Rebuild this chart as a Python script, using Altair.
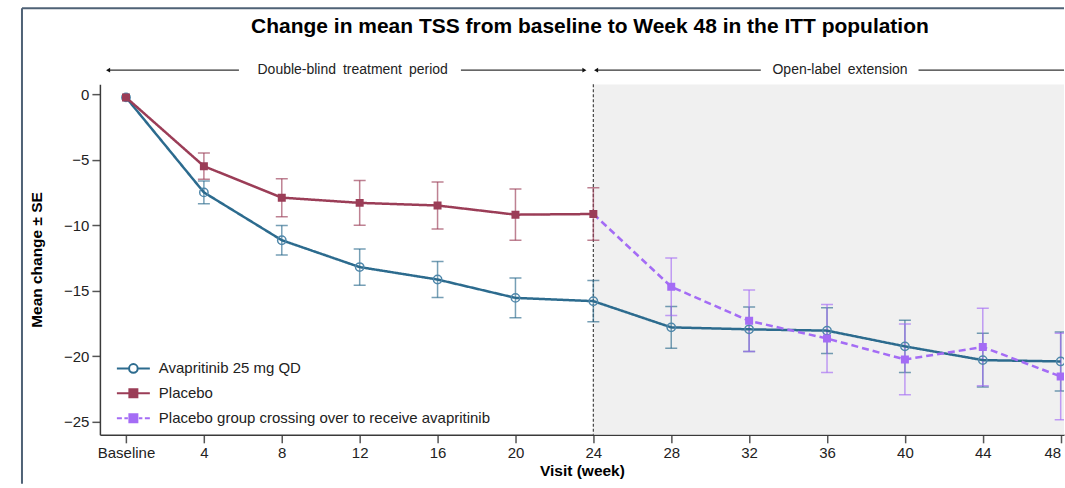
import altair as alt
import pandas as pd

FONT = "Liberation Sans"
TITLE = "Change in mean TSS from baseline to Week 48 in the ITT population"

SERIES = ["Avapritinib 25 mg QD", "Placebo",
          "Placebo group crossing over to receive avapritinib"]
COLORS = ["#2c6b8e", "#9b3d57", "#a46cf5"]
MARKER_COLORS = ["#4f87aa", "#9b3d57", "#a46cf5"]
FILLS = ["white", "#9b3d57", "#a46cf5"]
DASHES = [[1, 0], [1, 0], [7, 4]]
MARKERS = ["circle", "square", "square"]

AVAP_WEEKS = [0, 4, 8, 12, 16, 20, 24, 28, 32, 36, 40, 44, 48]
AVAP_MEAN = [-0.25, -7.5, -11.15, -13.2, -14.15, -15.55, -15.8, -17.8, -17.95, -18.05, -19.25, -20.3, -20.4]
AVAP_SE = [0.0, 0.86, 1.12, 1.38, 1.37, 1.52, 1.58, 1.6, 1.7, 1.75, 2.0, 2.05, 2.25]

PBO_WEEKS = [0, 4, 8, 12, 16, 20, 24]
PBO_MEAN = [-0.25, -5.5, -7.9, -8.3, -8.5, -9.2, -9.15]
PBO_SE = [0.0, 1.0, 1.45, 1.7, 1.8, 1.95, 2.0]

XOVER_WEEKS = [24, 28, 32, 36, 40, 44, 48]
XOVER_MEAN = [-9.15, -14.7, -17.3, -18.65, -20.25, -19.3, -21.55]
XOVER_SE = [None, 2.2, 2.35, 2.6, 2.7, 2.95, 3.3]

X_TICKS = [0, 4, 8, 12, 16, 20, 24, 28, 32, 36, 40, 44, 48]
X_LABELS = ["Baseline", "4", "8", "12", "16", "20", "24", "28", "32", "36", "40", "44", "48"]
Y_TICKS = [-25, -20, -15, -10, -5, 0]
X_DOMAIN = [-1.34, 48.17]
Y_DOMAIN = [-26.0, 0.76]

OLE_START = 24
HEADER_TEXT = ["Double-blind\u2002treatment\u2002period", "Open-label\u2002extension"]
HEADER_CENTER = [11.64, 36.67]
HEADER_SEG_START = [-0.92, 17.2, 24.14, 40.7]
HEADER_SEG_END = [5.8, 23.54, 32.6, 48.17]
ARROW_LEFT = [-0.92, 24.14]
ARROW_RIGHT = [23.54]

LEGEND_PATHS = [
    "M-3.3,0H-0.86M0.86,0H3.3M-0.86,0A0.86,0.86,0,1,1,0.86,0A0.86,0.86,0,1,1,-0.86,0Z",
    "M-3.3,0H3.3M-0.8,-0.8H0.8V0.8H-0.8Z",
    "M-3.3,0H-2.3M-1.8,0H-1.1M1.1,0H1.8M2.3,0H3.3M-0.8,-0.8H0.8V0.8H-0.8Z",
]

W, H = 965, 351

rows = []
for name, wk, mn, se in [(SERIES[0], AVAP_WEEKS, AVAP_MEAN, AVAP_SE),
                         (SERIES[1], PBO_WEEKS, PBO_MEAN, PBO_SE),
                         (SERIES[2], XOVER_WEEKS, XOVER_MEAN, XOVER_SE)]:
    for a, b, c in zip(wk, mn, se):
        rows.append({"series": name, "week": a, "mean": b, "se": c})
df = pd.DataFrame(rows)

label_expr = "[" + ",".join("'%s'" % s for s in X_LABELS) + "][indexof([" + \
    ",".join(str(v) for v in X_TICKS) + "], datum.value)]"

XS = alt.Scale(domain=X_DOMAIN, nice=False, zero=False)
YS = alt.Scale(domain=Y_DOMAIN, nice=False, zero=False)
XAX = alt.Axis(values=X_TICKS, labelExpr=label_expr, title="Visit (week)",
               labelFlush=6, grid=False)
YAX = alt.Axis(values=Y_TICKS, labelExpr="replace(format(datum.value, 'd'), '-', '\u2212')",
               title="Mean change \u00b1 SE", grid=False, titlePadding=19)


def X(field="week"):
    return alt.X(field + ":Q", scale=XS, axis=XAX)


def Y(field="mean"):
    return alt.Y(field + ":Q", scale=YS, axis=YAX)


# shaded open-label region
shade_df = pd.DataFrame({"week": [OLE_START], "week2": [X_DOMAIN[1]],
                         "mean": [Y_DOMAIN[1]], "mean2": [Y_DOMAIN[0]]})
shade = alt.Chart(shade_df).mark_rect(color="#f0f0f0", clip=True).encode(
    x=X(), x2="week2:Q", y=Y(), y2="mean2:Q")
vline = alt.Chart(shade_df).mark_rule(color="#444", strokeDash=[3, 2], strokeWidth=1.2).encode(
    x=X(), y=Y(), y2="mean2:Q")

# header
seg_df = pd.DataFrame({"week": HEADER_SEG_START, "week2": HEADER_SEG_END})
hdr_lines = alt.Chart(seg_df).mark_rule(color="#333", strokeWidth=1.2).encode(
    x=X(), x2="week2:Q", y=alt.value(-14))
arr_l = alt.Chart(pd.DataFrame({"week": ARROW_LEFT})).mark_point(
    shape="triangle-left", filled=True, color="#111", size=22, opacity=1).encode(
    x=X(), y=alt.value(-14))
arr_r = alt.Chart(pd.DataFrame({"week": ARROW_RIGHT})).mark_point(
    shape="triangle-right", filled=True, color="#111", size=22, opacity=1).encode(
    x=X(), y=alt.value(-14))
hdr_text = alt.Chart(pd.DataFrame({"week": HEADER_CENTER, "t": HEADER_TEXT})).mark_text(
    font=FONT, fontSize=14, color="#222", align="center", baseline="middle").encode(
    x=X(), y=alt.value(-14), text="t:N")

# frame of the figure
one = pd.DataFrame({"k": [0]})
frame_v = alt.Chart(one).mark_rule(color="#4f6276", strokeWidth=2).encode(
    x=alt.value(-78), y=alt.value(-76), y2=alt.value(400))
frame_h = alt.Chart(one).mark_rule(color="#4f6276", strokeWidth=2).encode(
    x=alt.value(-78), x2=alt.value(W), y=alt.value(-76))

# per-series layers (error bars, lines, markers)
err_layers, line_layers, point_layers = [], [], []
for i, name in enumerate(SERIES):
    sdf = df[df["series"] == name]
    base = alt.Chart(sdf)
    errs = base.transform_filter("isValid(datum.se) && datum.se > 0").transform_calculate(
        lo="datum.mean - datum.se", hi="datum.mean + datum.se")
    err_layers.append(errs.mark_rule(color=COLORS[i], strokeWidth=1.5, opacity=0.65, clip=True).encode(
        x=X(), y=Y("lo"), y2="hi:Q"))
    err_layers.append(errs.mark_tick(color=COLORS[i], orient="horizontal", size=12, thickness=1.5,
                                     opacity=0.65, clip=True).encode(x=X(), y=Y("lo")))
    err_layers.append(errs.mark_tick(color=COLORS[i], orient="horizontal", size=12, thickness=1.5,
                                     opacity=0.65, clip=True).encode(x=X(), y=Y("hi")))
    line_layers.append(base.mark_line(color=COLORS[i], strokeWidth=2.5, strokeDash=DASHES[i],
                                      clip=True).encode(x=X(), y=Y()))
    pts = base.transform_filter("isValid(datum.se)")
    if MARKERS[i] == "circle":
        point_layers.append(pts.mark_point(shape="circle", filled=False, color=MARKER_COLORS[i], size=70,
                                           strokeWidth=1.5, opacity=1, clip=True).encode(x=X(), y=Y()))
    else:
        point_layers.append(pts.mark_point(shape="square", filled=True, color=MARKER_COLORS[i], size=64,
                                           opacity=1, clip=True).encode(x=X(), y=Y()))

# legend (drawn by the library from the series scale)
LEG = alt.Legend(title=None, orient="none", legendX=26, legendY=277, symbolSize=100,
                 symbolStrokeWidth=2, symbolOpacity=1, labelFont=FONT, labelFontSize=15,
                 labelColor="#222", labelOffset=18, rowPadding=8, padding=0, labelLimit=600)
legend_layer = alt.Chart(df).mark_point(opacity=0, size=100, strokeWidth=2, clip=True).encode(
    x=X(), y=Y(),
    stroke=alt.Stroke("series:N", scale=alt.Scale(domain=SERIES, range=COLORS), legend=LEG),
    fill=alt.Fill("series:N", scale=alt.Scale(domain=SERIES, range=FILLS), legend=LEG),
    shape=alt.Shape("series:N", scale=alt.Scale(domain=SERIES, range=LEGEND_PATHS), legend=LEG),
)

chart = alt.layer(
    shade, vline, hdr_lines, arr_l, arr_r, hdr_text, frame_v, frame_h,
    *err_layers, *line_layers, *point_layers, legend_layer
).properties(
    width=W, height=H,
    padding={"left": 21, "top": 7, "right": 0, "bottom": 0},
    title=alt.TitleParams(TITLE, font=FONT, fontSize=21, fontWeight="bold", color="#000",
                          anchor="middle", frame="group", dx=8, offset=-47, baseline="alphabetic"),
).configure(font=FONT).configure_view(stroke=None).configure_axis(
    labelFont=FONT, labelFontSize=15, labelColor="#222", titleFont=FONT, titleFontSize=15.5,
    titleFontWeight="bold", titleColor="#000", domainColor="#3a3a3a", domainWidth=1.5,
    tickColor="#555", tickWidth=1.5, tickSize=8, labelPadding=3, titlePadding=3,
)

chart.save("out.html", embed_options={"renderer": "svg", "actions": False})
